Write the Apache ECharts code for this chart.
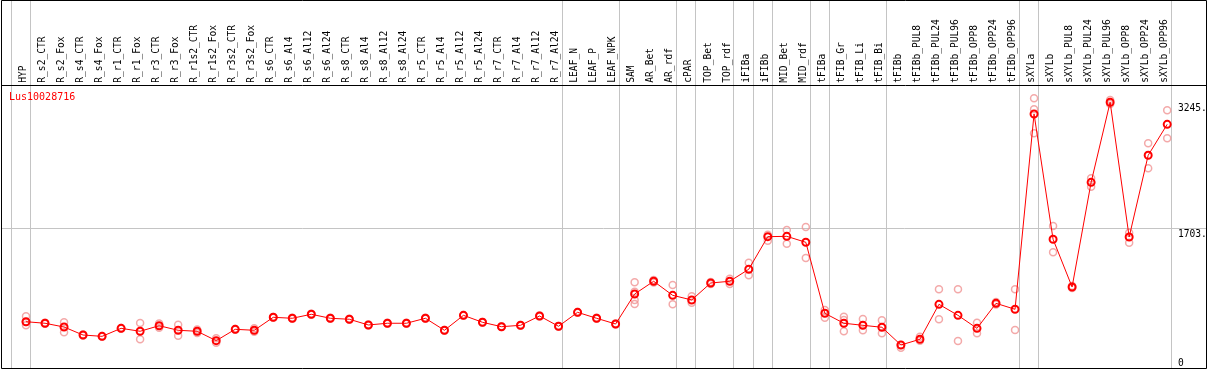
<!DOCTYPE html>
<html>
<head>
<meta charset="utf-8">
<script src="https://cdn.jsdelivr.net/npm/echarts@6/dist/echarts.min.js"></script>
<style>
html,body{margin:0;padding:0;background:#fff;}
#chart{width:1209px;height:370px;}
</style>
</head>
<body>
<div id="chart"></div>
<script>
const geneName = 'Lus10028716';
const categories = ['HYP','R_s2_CTR','R_s2_Fox','R_s4_CTR','R_s4_Fox','R_r1_CTR','R_r1_Fox','R_r3_CTR','R_r3_Fox','R_r1s2_CTR','R_r1s2_Fox','R_r3s2_CTR','R_r3s2_Fox','R_s6_CTR','R_s6_Al4','R_s6_Al12','R_s6_Al24','R_s8_CTR','R_s8_Al4','R_s8_Al12','R_s8_Al24','R_r5_CTR','R_r5_Al4','R_r5_Al12','R_r5_Al24','R_r7_CTR','R_r7_Al4','R_r7_Al12','R_r7_Al24','LEAF_N','LEAF_P','LEAF_NPK','SAM','AR_Bet','AR_rdf','cPAR','TOP_Bet','TOP_rdf','iFIBa','iFIBb','MID_Bet','MID_rdf','tFIBa','tFIB_Gr','tFIB_Li','tFIB_Bi','tFIBb','tFIBb_PUL8','tFIBb_PUL24','tFIBb_PUL96','tFIBb_OPP8','tFIBb_OPP24','tFIBb_OPP96','sXYLa','sXYLb','sXYLb_PUL8','sXYLb_PUL24','sXYLb_PUL96','sXYLb_OPP8','sXYLb_OPP24','sXYLb_OPP96'];
const means = [558,539,493,395,379,477,441,509,453,441,326,465,453,612,600,649,600,588,518,539,539,600,453,636,551,497,514,628,502,673,600,530,897,1053,881,824,1032,1053,1200,1599,1603,1530,661,539,514,490,273,343,771,636,477,783,710,3100,1567,983,2264,3245,1595,2595,2974];
const replicates = [[624,554,514],[545,533],[551,428],[400,390],[384,374],[482,472],[542,343],[536,483],[521,387],[463,420],[355,301],[470,460],[477,436],[617,607],[605,595],[654,644],[605,595],[593,583],[523,513],[544,534],[544,534],[605,595],[458,448],[641,631],[556,546],[502,492],[519,509],[633,623],[507,497],[678,668],[605,595],[535,525],[1040,925,824,775],[1069,1038],[1007,771],[869,791],[1044,1020],[1084,1020],[1280,1126],[1623,1550],[1681,1513],[1717,1338],[701,607],[619,579,441],[591,453],[575,416],[273,240],[375,326],[955,588],[955,322],[546,416],[799,769],[955,457],[3293,3160,2864],[1730,1408],[995,971],[2313,2211],[3272,3223],[1648,1525],[2742,2436],[3146,2803]];
const groupEnds = [-1,0,28,31,34,35,37,38,39,41,42,45,52,53,60];
const yTicks = [0,1703,3245];
const refLineValue = 1703;

const FONT = 'DejaVu Sans Mono';
const chart = echarts.init(document.getElementById('chart'), null, {renderer:'canvas'});

const repData = [];
replicates.forEach((arr,i)=>arr.forEach(v=>repData.push([i,v])));
const meanData = means.map((v,i)=>[i,v]);

const sepLines = groupEnds.map(b=>({xAxis:b+0.21}));
sepLines.push({yAxis:refLineValue});

const option = {
  animation:false,
  backgroundColor:'#fff',
  title:{text:geneName,left:9,top:92,padding:0,textStyle:{color:'#ff0000',fontSize:10,fontWeight:'normal',fontFamily:FONT}},
  grid:[
    {left:1,top:0,width:1205,height:368},
    {left:13.8,top:85,width:1160.2,height:1}
  ],
  xAxis:[
    {type:'value',gridIndex:0,min:-25/19.02,max:1180/19.02,show:false},
    {type:'category',gridIndex:1,position:'top',data:categories,boundaryGap:true,
     axisLine:{show:false},axisTick:{show:false},splitLine:{show:false},
     axisLabel:{interval:0,rotate:90,margin:2.3,fontSize:9.6,fontFamily:FONT,color:'#000'}}
  ],
  yAxis:[
    {type:'value',gridIndex:0,min:-8.6,max:4496,show:false},
    {type:'value',gridIndex:1,show:false}
  ],
  series:[
    {type:'scatter',xAxisIndex:0,yAxisIndex:0,data:repData,symbol:'circle',symbolSize:7,z:2,
     itemStyle:{color:'rgba(0,0,0,0)',borderColor:'#f09494',borderWidth:1.5},
     markLine:{silent:true,symbol:['none','none'],label:{show:false},
       lineStyle:{color:'#c4c4c4',width:1,type:'solid'},data:sepLines,z:1}},
    {type:'line',xAxisIndex:0,yAxisIndex:0,data:meanData,symbol:'circle',symbolSize:7,showAllSymbol:true,z:3,
     itemStyle:{color:'rgba(0,0,0,0)',borderColor:'#ff0000',borderWidth:2},
     lineStyle:{color:'#ff0000',width:1}}
  ]
};
chart.setOption(option);

const gfx = [
  {type:'rect',shape:{x:1.5,y:0.5,width:1205,height:368},style:{fill:null,stroke:'#000',lineWidth:1},z:100,silent:true},
  {type:'line',shape:{x1:1,y1:85.5,x2:1207,y2:85.5},style:{stroke:'#000',lineWidth:1},z:100,silent:true}
];
yTicks.forEach(v=>{
  const py = chart.convertToPixel({yAxisIndex:0},v);
  gfx.push({type:'text',z:101,silent:true,style:{text:v===0?'0':v+'.',x:1178,y:Math.min(py+1,358.5),
    font:'9.6px "'+FONT+'"',fill:'#000',textAlign:'left',textVerticalAlign:'top'}});
});
chart.setOption({graphic:gfx});
</script>
</body>
</html>
